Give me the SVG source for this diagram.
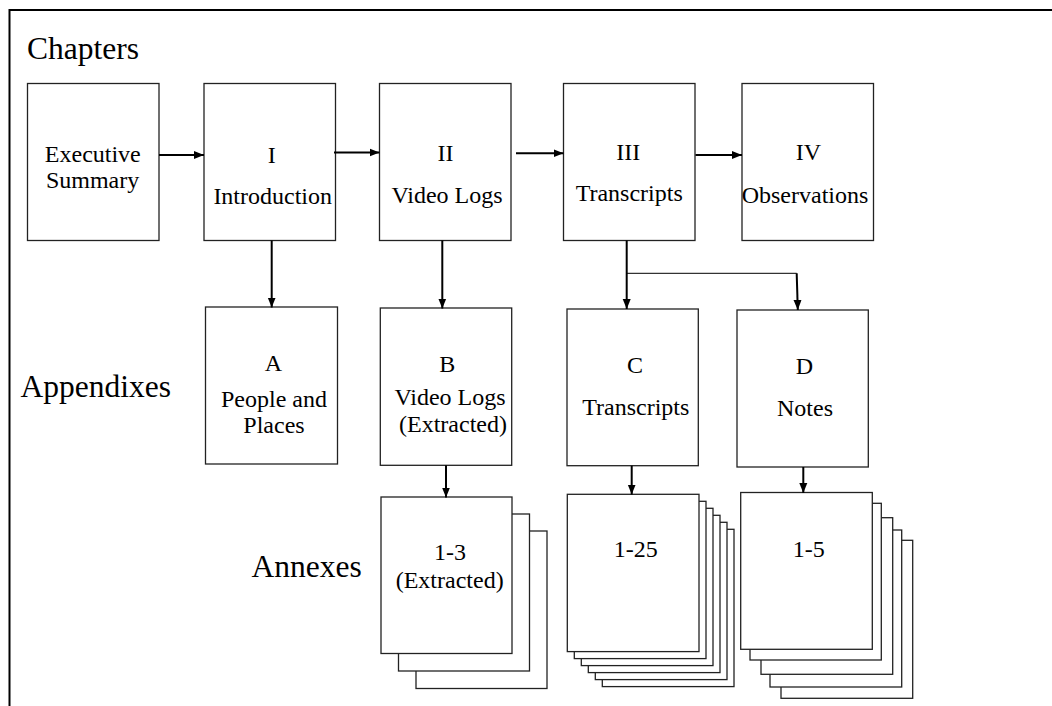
<svg xmlns="http://www.w3.org/2000/svg" width="1052" height="706" viewBox="0 0 1052 706">
<style>
.box{fill:#fff;stroke:#222;stroke-width:1.3}
.t{font-family:'Times New Roman','Liberation Serif',Tinos,'DejaVu Serif',serif;font-size:24px;fill:#000;text-anchor:middle}
.lbl{font-family:'Times New Roman','Liberation Serif',Tinos,'DejaVu Serif',serif;font-size:31.5px;fill:#000}
.arr{stroke:#000;stroke-width:2;fill:none;marker-end:url(#ah)}
.thin{stroke:#000;stroke-width:1;fill:none}
</style>
<defs>
<marker id="ah" markerUnits="userSpaceOnUse" markerWidth="10" markerHeight="10" viewBox="0 0 10 10" refX="10" refY="5" orient="auto">
<path d="M0,1 L10,5 L0,9 z" fill="#000"/>
</marker>
</defs>
<rect width="1052" height="706" fill="#fff"/>
<path d="M9.5 706 V10 H1052" fill="none" stroke="#000" stroke-width="2"/>
<text class="lbl" x="27" y="59">Chapters</text>
<text class="lbl" x="20.5" y="396.7">Appendixes</text>
<text class="lbl" x="251.5" y="577.3">Annexes</text>

<g id="exec"><rect class="box" x="27.5" y="83.5" width="131.5" height="157"/>
<text class="t" x="92.8" y="161.7">Executive</text><text class="t" x="92.6" y="188.3">Summary</text></g>
<g id="ch1"><rect class="box" x="204" y="83.5" width="131.5" height="157"/>
<text class="t" x="271.7" y="163.3">I</text><text class="t" x="272.7" y="204">Introduction</text></g>
<g id="ch2"><rect class="box" x="379.5" y="83.5" width="131.5" height="157"/>
<text class="t" x="445.5" y="161">II</text><text class="t" x="447" y="202.7">Video Logs</text></g>
<g id="ch3"><rect class="box" x="563.5" y="83.5" width="131.5" height="157"/>
<text class="t" x="628.3" y="160">III</text><text class="t" x="629.2" y="200.7">Transcripts</text></g>
<g id="ch4"><rect class="box" x="742" y="83.5" width="131.5" height="157"/>
<text class="t" x="808.5" y="160">IV</text><text class="t" x="805" y="202.7">Observations</text></g>

<g id="appA"><rect class="box" x="205.5" y="307" width="132" height="157"/>
<text class="t" x="273.5" y="370.7">A</text><text class="t" x="274" y="406.7">People and</text><text class="t" x="274" y="433.3">Places</text></g>
<g id="appB"><rect class="box" x="380.3" y="308" width="131.4" height="157.3"/>
<text class="t" x="447.3" y="371.7">B</text><text class="t" x="450" y="405">Video Logs</text><text class="t" x="453" y="432.3">(Extracted)</text></g>
<g id="appC"><rect class="box" x="567" y="309" width="131.3" height="156.7"/>
<text class="t" x="635" y="372.7">C</text><text class="t" x="635.8" y="415">Transcripts</text></g>
<g id="appD"><rect class="box" x="737" y="310" width="131.3" height="157"/>
<text class="t" x="804.3" y="374">D</text><text class="t" x="805" y="415.7">Notes</text></g>

<g id="annexB">
<rect class="box" x="416" y="531" width="131" height="157.5"/>
<rect class="box" x="398.5" y="514" width="131" height="157"/>
<rect class="box" x="381" y="497" width="131" height="156.5"/>
<text class="t" x="450" y="560">1-3</text><text class="t" x="449.7" y="587.7">(Extracted)</text></g>
<g id="annexC">
<rect class="box" x="602.3" y="529.3" width="131.7" height="157.3"/>
<rect class="box" x="595.3" y="522.3" width="131.7" height="157.3"/>
<rect class="box" x="588.3" y="515.3" width="131.7" height="157.3"/>
<rect class="box" x="581.3" y="508.3" width="131.7" height="157.3"/>
<rect class="box" x="574.3" y="501.3" width="131.7" height="157.3"/>
<rect class="box" x="567.3" y="494.3" width="131.7" height="157.3"/>
<text class="t" x="635.8" y="557.3">1-25</text></g>
<g id="annexD">
<rect class="box" x="781" y="540.3" width="131.7" height="158"/>
<rect class="box" x="770" y="530" width="131.7" height="157"/>
<rect class="box" x="761" y="517.7" width="131.7" height="156.6"/>
<rect class="box" x="750" y="503.3" width="131.3" height="156.7"/>
<rect class="box" x="740.7" y="492.5" width="131.6" height="156.8"/>
<text class="t" x="808.7" y="557.3">1-5</text></g>

<g id="connectors">
<line class="arr" x1="159" y1="155" x2="204" y2="155"/>
<line class="arr" x1="334" y1="152.5" x2="379.5" y2="152.5"/>
<line class="arr" x1="516" y1="153.3" x2="563.5" y2="153.3"/>
<line class="arr" x1="695.5" y1="155" x2="742" y2="155"/>
<line class="arr" x1="271.7" y1="240.5" x2="271.7" y2="307.5"/>
<line class="arr" x1="442.3" y1="240.5" x2="442.3" y2="308.5"/>
<line class="arr" x1="626.7" y1="240.5" x2="626.7" y2="309"/>
<polyline class="thin" points="626.7,273.3 796.7,273.3"/>
<line class="arr" x1="796.7" y1="273.3" x2="797.8" y2="310"/>
<line class="arr" x1="446" y1="465.3" x2="446" y2="497.5"/>
<line class="arr" x1="631.7" y1="465.7" x2="631.7" y2="494.5"/>
<line class="arr" x1="803.3" y1="467" x2="803.3" y2="493"/>
</g>
</svg>
